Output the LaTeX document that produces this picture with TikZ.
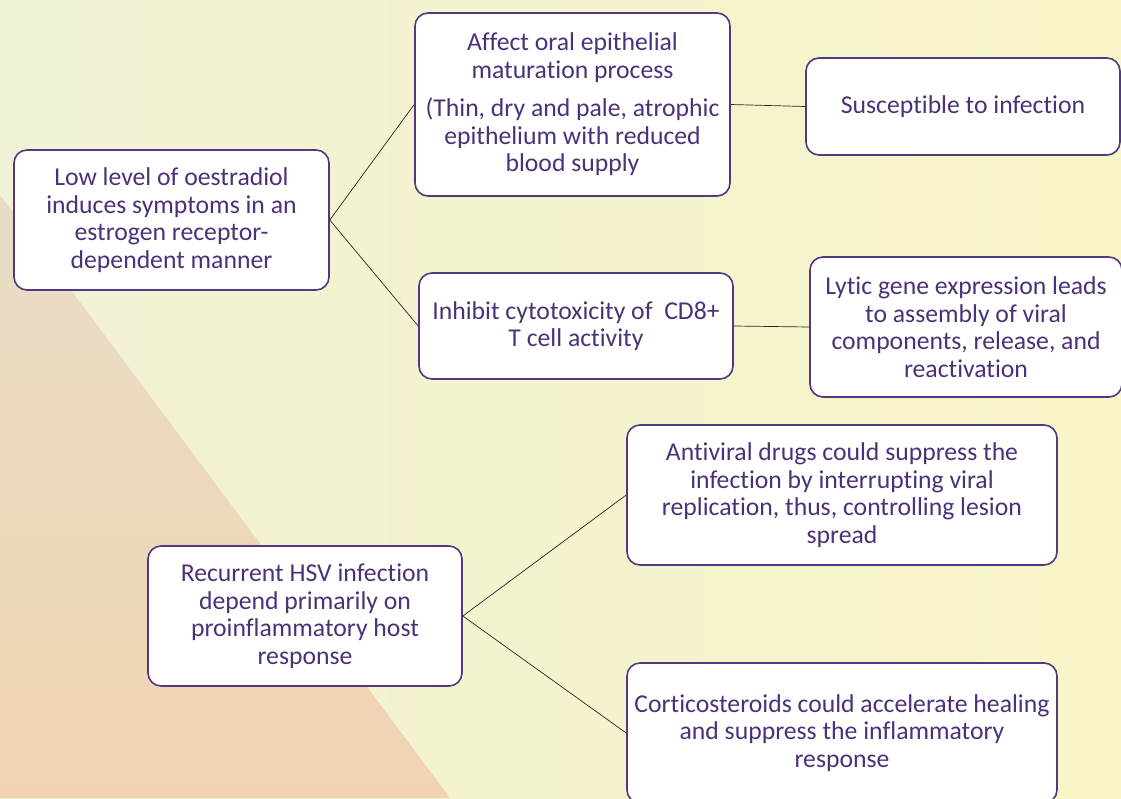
\documentclass[tikz,border=0pt]{standalone}
\usepackage{fontspec}
\setmainfont{Carlito}[Ligatures=NoCommon]

\definecolor{textpurple}{HTML}{4B3278}
\definecolor{edgepurple}{HTML}{523782}
\definecolor{bgyellow}{HTML}{F8F5C8}
\definecolor{bgleft}{HTML}{F1F1D5}
\definecolor{peachtop}{HTML}{E8DCC6}
\definecolor{peachbot}{HTML}{F0D4B2}

\tikzset{
	box/.style={draw=edgepurple, line width=1.6pt, fill=white, rounded corners=13pt,
		align=center, text=textpurple, font=\fontsize{25.7}{27.5}\selectfont, inner sep=4pt},
	link/.style={draw=black!85, line width=0.7pt}
}

\begin{document}
\begin{tikzpicture}[x=1pt, y=-1pt]
		\useasboundingbox (0,0) rectangle (1121,798);
		
		% Background
		\shade[left color=bgleft, right color=bgyellow] (0,0) rectangle (1121,798);
		\shade[top color=peachtop, bottom color=peachbot] (0,195) -- (450,798) -- (0,798) -- cycle;
		
		% Nodes
		\node (low) at (171.5, 220) [box, minimum width=315pt, minimum height=140pt]
			{Low level of oestradiol\\ induces symptoms in an\\ estrogen receptor-\\ dependent manner};
		\node (affect) at (572.5, 104.5) [box, minimum width=315pt, minimum height=183pt]
			{Affect oral epithelial\\ maturation process\\[11pt] (Thin, dry and pale, atrophic\\ epithelium with reduced\\ blood supply};
		\node (suscept) at (963, 106.5) [box, minimum width=314pt, minimum height=97pt]
			{Susceptible to infection};
		\node (inhibit) at (576, 326) [box, minimum width=314pt, minimum height=106pt]
			{Inhibit cytotoxicity of~ CD8+\\ T cell activity};
		\node (lytic) at (966, 327) [box, minimum width=312pt, minimum height=140pt]
			{Lytic gene expression leads\\ to assembly of viral\\ components, release, and\\ reactivation};
		\node (antiviral) at (842, 495) [box, minimum width=430pt, minimum height=140pt]
			{Antiviral drugs could suppress the\\ infection by interrupting viral\\ replication, thus, controlling lesion\\ spread};
		\node (hsv) at (305, 616) [box, minimum width=314pt, minimum height=140pt]
			{Recurrent HSV infection\\ depend primarily on\\ proinflammatory host\\ response};
		\node (cortico) at (842, 733) [box, minimum width=430pt, minimum height=140pt]
			{Corticosteroids could accelerate healing\\ and suppress the inflammatory\\ response};
		
		% Lines
		\draw[link] (low.east) -- (affect.west);
		\draw[link] (low.east) -- (inhibit.west);
		\draw[link] (affect.east) -- (suscept.west);
		\draw[link] (inhibit.east) -- (lytic.west);
		\draw[link] (hsv.east) -- (antiviral.west);
		\draw[link] (hsv.east) -- (cortico.west);
		
	\end{tikzpicture}
\end{document}
